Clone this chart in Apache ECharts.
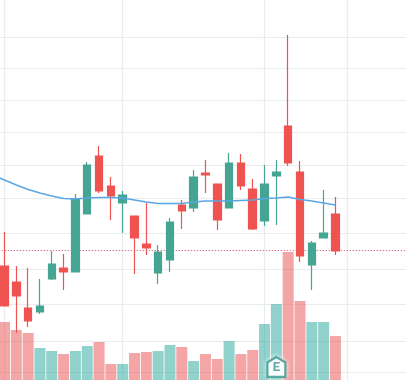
<!DOCTYPE html>
<html><head><meta charset="utf-8">
<style>html,body{margin:0;padding:0;background:#fff}#c{width:406px;height:380px}</style>
<script src="https://cdn.jsdelivr.net/npm/echarts@6/dist/echarts.min.js"></script>
</head><body><div id="c"></div>
<script>
var categories = ['p0','s1','s2','s3','s4','s5','s6','s7','s8','s9','s10','s11','s12','s13','s14','s15','s16','s17','s18','s19','s20','s21','s22','s23','s24','s25','s26','s27','s28','s29','f1','f2','f3','f4','f5','f6'];
var opens  = ['-',114,98,72,68,101,112,108,166,224,194,177,164,136,107,120,175,172,207,196,172,217,191,159,204,254,208,115,142,166];
var closes = ['-',74,84,59,74,116,108,181,215,189,184,185,142,132,128,158,169,203,205,160,217,194,151,196,208,217,124,137,147,129];
var lows   = ['-',74,47,53,66,100,90,108,166,187,160,147,106,125,96,108,151,168,187,150,172,190,150,154,155,214,118,90,142,125];
var highs  = ['-',148,114,112,101,129,126,186,218,234,203,189,164,177,135,162,180,210,220,196,227,226,201,215,220,345,219,139,190,183];
var volumes = ['-',58,50,47,32,29,26,29,34,38,16,16,27,28,29,35,33,19,26,21,39,26,30,56,76,128,79,58,58,44];
var average = [205,200,195,190.5,187,184,181.5,181,182,182.5,182.5,182,180,178,176.5,176.5,176.5,178,179,179,179,179.5,180,181.5,182,183,180.5,179,177,175];
var gridPrices = [343,312,280,248,215,182,147,111,76,39,8];
var gridCats = ['s1','s11','s23','f1'];
var lastPrice = 130;
var earningsCat = 's24', earningsLevel = 13;

var UP = '#45a592', DOWN = '#ef5350';
var candles = opens.map(function(o,i){ return [o,closes[i],lows[i],highs[i]]; });
var volData = volumes.map(function(v,i){
  return {value:v,itemStyle:{color: opens[i]<closes[i] ? 'rgba(38,166,154,0.5)' : 'rgba(233,84,84,0.52)'}};
});
var chart = echarts.init(document.getElementById('c'),null,{renderer:'canvas'});
chart.setOption({
  animation:false,
  backgroundColor:'#fff',
  grid:{left:-13.23,top:0,width:425.52,height:380,outerBoundsMode:'none'},
  xAxis:{type:'category',data:categories,show:false,boundaryGap:true},
  yAxis:[{type:'value',min:0,max:380,show:false,splitLine:{show:false}},
         {type:'value',min:0,max:380,show:false,splitLine:{show:false}}],
  series:[
    {type:'line',data:[],z:1,silent:true,
     markLine:{z:1,silent:true,symbol:'none',label:{show:false},animation:false,
       lineStyle:{color:'#e8ecef',width:1.2,type:'solid'},
       data:gridPrices.map(function(p){return {yAxis:p};}).concat(gridCats.map(function(c){return {xAxis:c};}))}},
    {type:'bar',yAxisIndex:1,data:volData,barWidth:11,z:2,silent:true},
    {type:'candlestick',data:candles,barWidth:8,z:3,silent:true,
     itemStyle:{color:UP,color0:DOWN,borderColor:UP,borderColor0:DOWN,borderWidth:1.2},
     markLine:{z:3,silent:true,symbol:'none',label:{show:false},animation:false,
       lineStyle:{color:'#d8455f',width:1,type:[1,2]},data:[{yAxis:lastPrice}]}},
    {type:'line',data:average,z:4,silent:true,symbol:'none',showSymbol:false,smooth:false,
     lineStyle:{color:'#5ba6e2',width:1.5}},
    {type:'scatter',yAxisIndex:1,z:5,silent:true,
     data:[[earningsCat,earningsLevel]],
     symbol:'path://M10 0 L20 6 L20 22 L0 22 L0 6 Z',symbolSize:[18,20],
     itemStyle:{color:'#fff',borderColor:'#35958a',borderWidth:2.4,shadowColor:'rgba(255,255,255,1)',shadowBlur:4},
     label:{show:true,position:'inside',formatter:'E',color:'#35958a',fontFamily:'Roboto',fontWeight:'bold',fontSize:13,offset:[0,1]}}
  ]
});
</script></body></html>
